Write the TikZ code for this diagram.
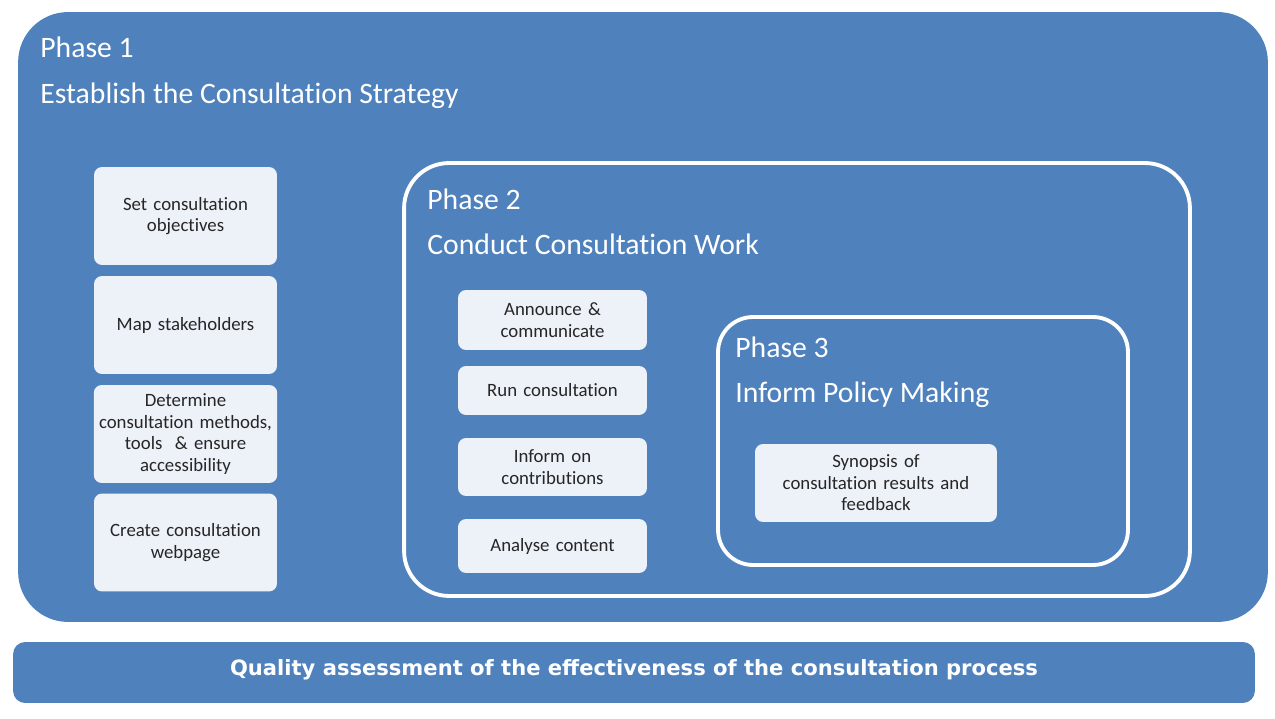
\documentclass[tikz,border=0pt]{standalone}
\usepackage{fontspec}
\setmainfont{Carlito}[Ligatures=NoCommon]
\newfontfamily\stepfont{Carlito}[Ligatures=NoCommon,WordSpace=0.7]
\newfontfamily\barfont{DejaVu Sans}
\usepackage{tikz}

\definecolor{phaseblue}{HTML}{4F81BD}
\definecolor{steplight}{HTML}{EDF1F8}

\begin{document}
\begin{tikzpicture}[
		x=0.02cm,y=-0.02cm,
		phase/.style = {
			rectangle,draw=white,line width=2.2pt,fill=phaseblue
		},
		title/.style = {
			anchor=base west,inner sep=0pt,text=white,
			font=\fontsize{16.9}{20}\selectfont
		},
		stepbox/.style = {
			rectangle,rounded corners=1.6mm,fill=steplight,
			text=black!85,align=center,inner sep=1pt,
			font=\stepfont\fontsize{10.7}{12.2}\selectfont
		}]
		\useasboundingbox (0,0) rectangle (1275,719);
		% outer frame and quality bar
		\node [rectangle,rounded corners=1cm,fill=phaseblue,
			minimum width=25cm,minimum height=12.2cm] (phaseone) at (643,317) {};
		\node [rectangle,rounded corners=2.4mm,fill=phaseblue,
			minimum width=24.84cm,minimum height=1.22cm] (qualitybar) at (634,672.5) {};
		\node [text=white,inner sep=0pt,
			font=\barfont\bfseries\fontsize{12}{14}\selectfont] (quality) at (634,669.5)
			{Quality assessment of the effectiveness of the consultation process};
		\node [phase,rounded corners=0.9cm,minimum width=15.72cm,minimum height=8.66cm] (phasetwo) at (797,379.5) {};
		\node [phase,rounded corners=0.7cm,minimum width=8.2cm,minimum height=4.96cm] (phasethree) at (923,441) {};
		% titles
		\node [title] (ponenum)   at (40,58)   {Phase 1};
		\node [title] (ponename)  at (40,104)  {Establish the Consultation Strategy};
		\node [title] (ptwonum)   at (427,210) {Phase 2};
		\node [title] (ptwoname)  at (427,255) {Conduct Consultation Work};
		\node [title] (pthreenum) at (735,358) {Phase 3};
		\node [title] (pthreename) at (735,403) {Inform Policy Making};
		% phase 1 steps
		\node [stepbox,minimum width=3.66cm,minimum height=1.96cm,text width=3.5cm] (objectives) at (185.5,216) {Set consultation\\objectives};
		\node [stepbox,minimum width=3.66cm,minimum height=1.96cm,text width=3.5cm] (stakeholders) at (185.5,325) {Map stakeholders};
		\node [stepbox,minimum width=3.66cm,minimum height=1.96cm,text width=3.6cm] (methods) at (185.5,434) {Determine\\consultation methods,\\tools\ \ \& ensure\\accessibility};
		\node [stepbox,minimum width=3.66cm,minimum height=1.96cm,text width=3.5cm] (webpage) at (185.5,542.5) {Create consultation\\webpage};
		% phase 2 steps
		\node [stepbox,minimum width=3.78cm,minimum height=1.2cm,text width=3.6cm] (announce) at (552.5,320) {Announce \&\\communicate};
		\node [stepbox,minimum width=3.78cm,minimum height=0.98cm,text width=3.6cm] (run) at (552.5,390.5) {Run consultation};
		\node [stepbox,minimum width=3.78cm,minimum height=1.16cm,text width=3.6cm] (contributions) at (552.5,467) {Inform on\\contributions};
		\node [stepbox,minimum width=3.78cm,minimum height=1.08cm,text width=3.6cm] (analyse) at (552.5,546) {Analyse content};
		% phase 3 step
		\node [stepbox,minimum width=4.84cm,minimum height=1.56cm,text width=4.6cm] (synopsis) at (876,483) {Synopsis of\\consultation results and\\feedback};
\end{tikzpicture}
\end{document}
